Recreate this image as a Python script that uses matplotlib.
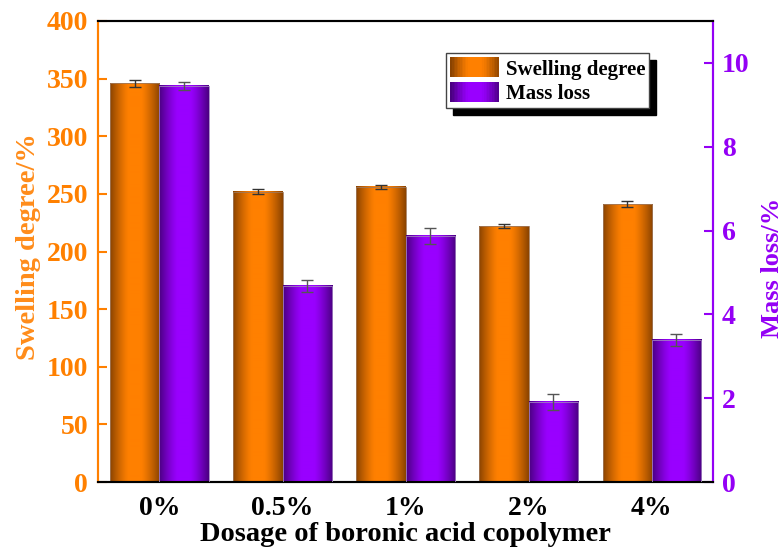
import numpy as np
import matplotlib.pyplot as plt
from matplotlib.colors import LinearSegmentedColormap
from matplotlib.legend_handler import HandlerBase
from matplotlib.patches import Rectangle

plt.rcParams['font.family'] = ['Liberation Serif', 'DejaVu Serif']
plt.rcParams['font.weight'] = 'bold'

# Data
dosage = ['0%', '0.5%', '1%', '2%', '4%']
swelling = [346, 252, 256, 222, 241]
swelling_err = [3, 2.5, 2, 1.5, 2.5]
mass_loss = [9.45, 4.68, 5.87, 1.91, 3.39]
mass_loss_err = [0.1, 0.15, 0.2, 0.2, 0.15]

orange = '#FF8000'
purple = '#9400F5'
orange_cmap = LinearSegmentedColormap.from_list('og', ['#8A4300', '#FF8000'])
purple_cmap = LinearSegmentedColormap.from_list('pg', ['#4A0080', '#9900FF'])

# horizontal shading profile: dark edges, bright middle
t = np.linspace(0, 1, 200)
shade = 1 - np.clip((np.abs(t - 0.5) - 0.12) / 0.38, 0, 1) ** 1.3
shade = shade[np.newaxis, :]


def gradient_bars(ax, bars, cmap):
    for b in bars:
        x0, y0 = b.get_x(), b.get_y()
        w, h = b.get_width(), b.get_height()
        ax.imshow(shade, cmap=cmap, vmin=0, vmax=1, aspect='auto',
                  extent=[x0, x0 + w, y0, y0 + h], zorder=2, interpolation='bilinear')
        b.set_facecolor('none')
        b.set_zorder(3)


class GradientHandler(HandlerBase):
    def __init__(self, cmap):
        super().__init__()
        self.cmap = cmap

    def create_artists(self, legend, orig_handle, xdescent, ydescent,
                       width, height, fontsize, trans):
        n = 30
        artists = []
        for i in range(n):
            c = self.cmap(shade[0, int(i / n * 199)])
            r = Rectangle((-xdescent + width * i / n, -ydescent), width / n + 0.3, height,
                          facecolor=c, edgecolor='none', transform=trans)
            artists.append(r)
        return artists


fig = plt.figure(figsize=(7.83, 5.48), dpi=100)
ax = fig.add_axes([0.125, 0.1204, 0.786, 0.8413])
ax2 = ax.twinx()

x = np.arange(len(dosage))
width = 0.4

b1 = ax.bar(x - width / 2, swelling, width, color=orange, edgecolor='#A0785A',
            linewidth=0.6, label='Swelling degree')
ax.errorbar(x - width / 2, swelling, yerr=swelling_err, fmt='none', ecolor='#333333',
            elinewidth=1, capsize=4, capthick=1, zorder=5)
b2 = ax2.bar(x + width / 2, mass_loss, width, color=purple, edgecolor='#A080C0',
             linewidth=0.6, label='Mass loss')
ax2.errorbar(x + width / 2, mass_loss, yerr=mass_loss_err, fmt='none', ecolor='#555555',
             elinewidth=1, capsize=4, capthick=1, zorder=5)
gradient_bars(ax, b1, orange_cmap)
gradient_bars(ax2, b2, purple_cmap)

ax.set_xlim(-0.5, 4.5)
ax.set_ylim(0, 400)
ax2.set_ylim(0, 11)

ax.set_xticks(x)
ax.set_xticklabels(dosage, fontsize=20, fontweight='bold')
ax.tick_params(axis='x', direction='in', length=4, width=1.5, pad=10)
ax.set_yticks(np.arange(0, 401, 50))
ax.tick_params(axis='y', colors=orange, labelsize=20, direction='in', length=6.5,
               width=1.5, pad=7)
ax2.set_yticks(np.arange(0, 11, 2))
ax2.tick_params(axis='y', colors=purple, labelsize=20, direction='in', length=6.5,
                width=1.5, pad=6)
for lbl in ax.get_yticklabels() + ax2.get_yticklabels():
    lbl.set_fontweight('bold')

ax.set_xlabel('Dosage of boronic acid copolymer', fontsize=20.5, fontweight='bold', labelpad=1)
ax.set_ylabel('Swelling degree/%', fontsize=20.5, fontweight='bold', color='#FF8C1A')
ax.yaxis.set_label_coords(-0.092, 0.51)
ax2.set_ylabel('Mass loss/%', fontsize=19, fontweight='bold', color=purple)
ax2.yaxis.set_label_coords(1.077, 0.464)

for a in (ax, ax2):
    a.spines['left'].set_color(orange)
    a.spines['right'].set_color(purple)
    a.spines['top'].set_color('black')
    a.spines['bottom'].set_color('black')
    for s in a.spines.values():
        s.set_linewidth(1.5)

leg = ax2.legend([b1, b2], ['Swelling degree', 'Mass loss'],
                 handler_map={b1: GradientHandler(orange_cmap), b2: GradientHandler(purple_cmap)},
                 loc='upper left', bbox_to_anchor=(0.566, 0.93),
                 prop={'weight': 'bold', 'size': 15}, frameon=True, fancybox=False,
                 shadow={'color': 'black', 'alpha': 1, 'ox': 5, 'oy': -5},
                 borderpad=0.2, labelspacing=0.1, handlelength=2.3, handleheight=1.1,
                 handletextpad=0.35, borderaxespad=0)
leg.get_frame().set_edgecolor('#444444')
leg.get_frame().set_linewidth(1)

fig.savefig('out.png', dpi=100)
